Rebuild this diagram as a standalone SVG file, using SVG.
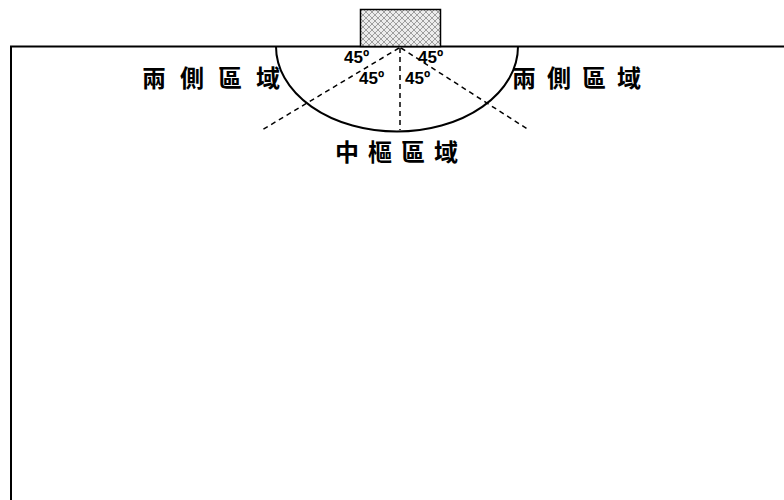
<svg xmlns="http://www.w3.org/2000/svg" width="784" height="500" viewBox="0 0 784 500">
<defs>
<pattern id="hatch" width="6" height="6" patternUnits="userSpaceOnUse">
<rect width="6" height="6" fill="#ececec"/>
<path d="M0,0 L6,6 M6,0 L0,6" stroke="#8a8a8a" stroke-width="0.8"/>
</pattern>
<style>
.line{fill:none;stroke:#000;stroke-width:2}
.dash{fill:none;stroke:#000;stroke-width:1.5;stroke-dasharray:5,4}
.deg{font-family:"Liberation Sans",Arial,sans-serif;font-weight:bold;font-size:17px;fill:#000}
.zh{font-family:"Noto Sans CJK TC","Noto Sans CJK SC",sans-serif;font-size:24px;font-weight:bold;fill:#000}
</style>
</defs>
<rect width="784" height="500" fill="#fff"/>
<g id="field">
<path class="line" d="M11,500 L11,46.5 L784,46.5"/>
</g>
<g id="goal">
<rect x="360.5" y="9.5" width="80" height="37" fill="url(#hatch)" stroke="#000" stroke-width="1.5"/>
</g>
<g id="zone">
<path class="line" d="M276,46.5 A121,85 0 0 0 518,46.5"/>
</g>
<g id="connectors">
<line class="dash" x1="399" y1="48" x2="262" y2="130"/>
<line class="dash" x1="400" y1="48" x2="400" y2="130"/>
<line class="dash" x1="401" y1="48" x2="529" y2="130"/>
</g>
<g id="labels">
<text class="deg" x="344" y="63">45º</text>
<text class="deg" x="418" y="63">45º</text>
<text class="deg" x="359" y="84">45º</text>
<text class="deg" x="405" y="84">45º</text>
<text class="zh" x="142" y="87" letter-spacing="14">兩側區域</text>
<text class="zh" x="512" y="87" letter-spacing="11">兩側區域</text>
<text class="zh" x="335" y="161" letter-spacing="9">中樞區域</text>
</g>
</svg>
